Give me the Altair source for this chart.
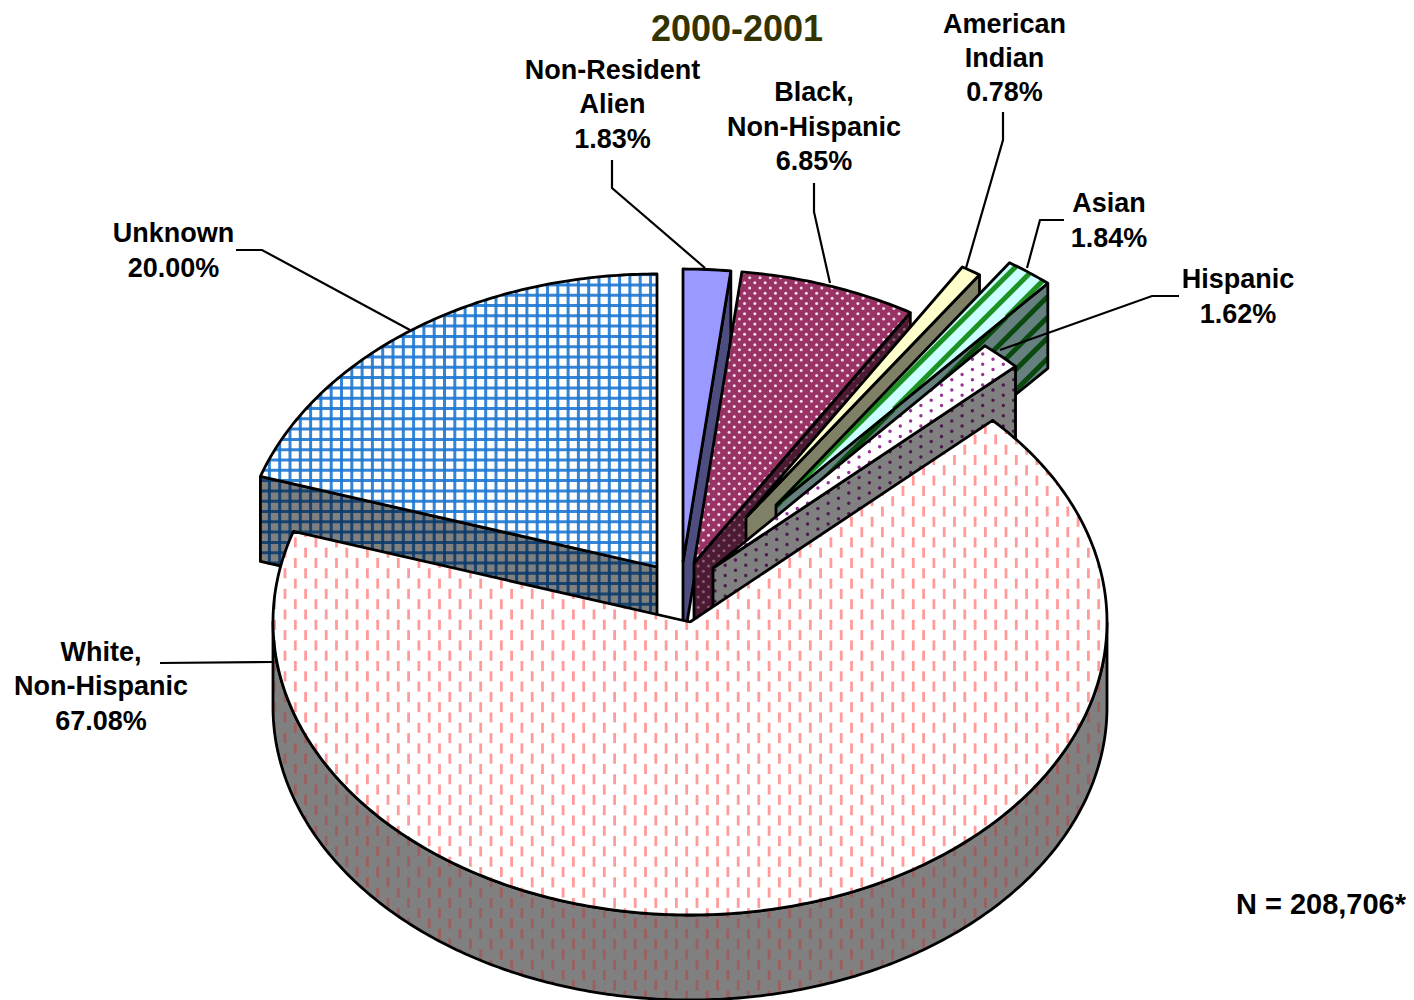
import numpy as np
import pandas as pd
import altair as alt

alt.data_transformers.disable_max_rows()

# ---- values ----
CATEGORIES = ["Unknown", "Non-Resident Alien", "Black, Non-Hispanic", "American Indian",
              "Asian", "Hispanic", "White, Non-Hispanic"]
SHARES = [20.00, 1.83, 6.85, 0.78, 1.84, 1.62, 67.08]
TOTAL_LABEL = "N = 208,706*"
TITLE_LABEL = "2000-2001"
LABEL_LINES = [
    ["Unknown", "20.00%"],
    ["Non-Resident", "Alien", "1.83%"],
    ["Black,", "Non-Hispanic", "6.85%"],
    ["American", "Indian", "0.78%"],
    ["Asian", "1.84%"],
    ["Hispanic", "1.62%"],
    ["White,", "Non-Hispanic", "67.08%"],
]

# ---- layout (page pixels) ----
START_ANGLE = 288.0
RX, RY, DEPTH = 417.0, 293.0, 85.0
CENTERS = [(657, 567), (683, 562), (694, 563), (746, 517.5), (776, 505.5), (713, 568), (690, 622)]
LABEL_X = [173.5, 612.5, 814, 1004.5, 1109, 1238, 101]
LABEL_Y = [[242, 277], [79, 113, 148], [101, 136, 170], [33, 67, 101], [212, 247], [288, 323], [661, 695, 730]]
LEADERS = [
    [(236, 250), (262, 250), (410, 330)],
    [(612, 160), (612, 188), (705, 268)],
    [(814, 183), (814, 212), (830, 283)],
    [(1003, 112), (1003, 140), (966, 268)],
    [(1064, 220), (1040, 220), (1027, 268)],
    [(1179, 296), (1152, 296), (1000, 350)],
    [(160, 663), (273, 662)],
]
FACE = ["#ffffff", "#9999ff", "#993366", "#ffffcc", "#ccffff", "#ffffff", "#ffffff"]
SIDE = ["#808080", "#4d4d80", "#4d1a33", "#808066", "#668080", "#808080", "#808080"]
PATTERN_FACE = ["#1f78d2", None, "#f4dce8", None, "#0a860a", "#993399", "#ff9090"]
PATTERN_SIDE = ["#0c3c6c", None, "#8c6078", None, "#004300", "#4d1a4d", "#a05a5a"]
OUTLINE = 2.8
CELL = 10.3
PAGE_L, PAGE_R, PAGE_T, PAGE_B = 8, 1406, 8, 1000

X = alt.X("x:Q", axis=None, scale=alt.Scale(domain=[PAGE_L, PAGE_R], nice=False, zero=False))
Y = alt.Y("y:Q", axis=None, scale=alt.Scale(domain=[PAGE_B, PAGE_T], nice=False, zero=False))


def rim_point(c, deg):
    a = np.radians(deg)
    return c[0] + RX * np.sin(a), c[1] - RY * np.cos(a)


def inside(px, py, poly):
    poly = np.asarray(poly, float)
    x0, y0 = poly[:, 0], poly[:, 1]
    x1, y1 = np.roll(x0, -1), np.roll(y0, -1)
    px, py = np.asarray(px)[:, None], np.asarray(py)[:, None]
    with np.errstate(divide="ignore", invalid="ignore"):
        cond = ((y0 > py) != (y1 > py)) & (px < (x1 - x0) * (py - y0) / (y1 - y0) + x0)
    return cond.sum(axis=1) % 2 == 1


def clip_segment(p0, p1, poly):
    n = int(max(2, np.hypot(p1[0] - p0[0], p1[1] - p0[1]) * 2))
    t = np.linspace(0, 1, n)
    xs = p0[0] + (p1[0] - p0[0]) * t
    ys = p0[1] + (p1[1] - p0[1]) * t
    mask = inside(xs, ys, poly)
    out, i = [], 0
    while i < n:
        if mask[i]:
            j = i
            while j + 1 < n and mask[j + 1]:
                j += 1
            if j > i:
                out.append((xs[i], ys[i], xs[j], ys[j]))
            i = j + 1
        else:
            i += 1
    return out


def bbox(poly):
    a = np.asarray(poly)
    return a[:, 0].min(), a[:, 0].max(), a[:, 1].min(), a[:, 1].max()


def grid_segments(poly):
    x0, x1, y0, y1 = bbox(poly)
    segs = []
    for k in np.arange(np.floor((x0 - 290) / CELL), np.ceil((x1 - 290) / CELL) + 1):
        gx = 290 + k * CELL
        segs += clip_segment((gx, y0 - 1), (gx, y1 + 1), poly)
    for k in np.arange(np.floor((y0 - 460) / CELL), np.ceil((y1 - 460) / CELL) + 1):
        gy = 460 + k * CELL
        segs += clip_segment((x0 - 1, gy), (x1 + 1, gy), poly)
    return segs


def stripe_segments(poly):
    x0, x1, y0, y1 = bbox(poly)
    segs = []
    period = 2 * CELL
    for k in np.arange(np.floor((x0 + y0 - 1303) / period), np.ceil((x1 + y1 - 1303) / period) + 1):
        s = 1303 + k * period
        segs += clip_segment((x0 - 1, s - x0 + 1), (x1 + 1, s - x1 - 1), poly)
    return segs


def dash_segments(poly):
    x0, x1, y0, y1 = bbox(poly)
    segs = []
    for i in np.arange(np.floor((x0 - 285) / CELL), np.ceil((x1 - 285) / CELL) + 1):
        cx = 285 + i * CELL
        shift = 0 if int(i) % 2 == 0 else CELL
        for j in np.arange(np.floor((y0 - 655.7) / (2 * CELL)) - 1, np.ceil((y1 - 655.7) / (2 * CELL)) + 1):
            cy = 655.7 + j * 2 * CELL + shift
            segs += clip_segment((cx, cy - 5), (cx, cy + 5), poly)
    return segs


def dot_points(poly, ax, ay, dx, dy):
    x0, x1, y0, y1 = bbox(poly)
    xs, ys = [], []
    for j in np.arange(np.floor((y0 - ay) / dy), np.ceil((y1 - ay) / dy) + 1):
        off = dx / 2 if int(j) % 2 else 0
        for i in np.arange(np.floor((x0 - ax) / dx) - 1, np.ceil((x1 - ax) / dx) + 1):
            xs.append(ax + i * dx + off)
            ys.append(ay + j * dy)
    xs, ys = np.array(xs), np.array(ys)
    m = inside(xs, ys, poly)
    return xs[m], ys[m]


def poly_df(poly):
    pts = list(poly) + [poly[0]]
    return pd.DataFrame({"x": [p[0] for p in pts], "y": [p[1] for p in pts], "i": range(len(pts))})


def base_layer(poly, fill):
    return alt.Chart(poly_df(poly)).mark_line(fill=fill, stroke=fill, strokeWidth=0.5).encode(
        x=X, y=Y, order=alt.Order("i:Q"))


def outline_layer(poly):
    return alt.Chart(poly_df(poly)).mark_line(
        stroke="black", strokeWidth=OUTLINE, strokeJoin="round", opacity=1).encode(
        x=X, y=Y, order=alt.Order("i:Q"))


def segment_layer(segs, color, width):
    df = pd.DataFrame(segs, columns=["x", "y", "x2", "y2"])
    return alt.Chart(df).mark_rule(stroke=color, strokeWidth=width, opacity=0.9).encode(
        x=X, y=Y, x2=alt.X2("x2"), y2=alt.Y2("y2"))


def point_layer(xs, ys, color, size):
    df = pd.DataFrame({"x": xs, "y": ys})
    return alt.Chart(df).mark_circle(color=color, size=size, opacity=1).encode(x=X, y=Y)


def pattern_layers(idx, poly, color):
    if color is None:
        return []
    if idx == 0:
        return [segment_layer(grid_segments(poly), color, 3.0)]
    if idx == 2:
        a, b = dot_points(poly, 760, 288, CELL, CELL / 2)
        return [point_layer(a, b, color, 9)]
    if idx == 4:
        return [segment_layer(stripe_segments(poly), color, 5.0)]
    if idx == 5:
        a, b = dot_points(poly, 982.7, 354, 2 * CELL, CELL / 2)
        return [point_layer(a, b, color, 12)]
    if idx == 6:
        return [segment_layer(dash_segments(poly), color, 2.8)]
    return []


layers = []
angle = START_ANGLE
edges = []
for s in SHARES:
    edges.append((angle, angle + s * 3.6))
    angle += s * 3.6

for idx, (a0, a1) in enumerate(edges):
    c = CENTERS[idx]
    arc = [rim_point(c, d) for d in np.linspace(a0, a1, max(4, int((a1 - a0) * 1.5)))]
    top = [c] + arc

    # side wall
    if idx == 6:
        front = [rim_point(c, d) for d in np.linspace(90, 270, 271)]
        side = front + [(p[0], p[1] + DEPTH) for p in reversed(front)]
    elif idx == 0:
        p = arc[0]
        side = [p, c, (c[0], c[1] + DEPTH), (p[0], p[1] + DEPTH)]
    else:
        p = arc[-1]
        side = [p, c, (c[0], c[1] + DEPTH), (p[0], p[1] + DEPTH)]
    layers.append(base_layer(side, SIDE[idx]))
    layers += pattern_layers(idx, side, PATTERN_SIDE[idx])
    layers.append(outline_layer(side))

    # top face
    layers.append(base_layer(top, FACE[idx]))
    layers += pattern_layers(idx, top, PATTERN_FACE[idx])
    layers.append(outline_layer(top))

# leader lines
for pts in LEADERS:
    df = pd.DataFrame({"x": [p[0] for p in pts], "y": [p[1] for p in pts], "i": range(len(pts))})
    layers.append(alt.Chart(df).mark_line(stroke="black", strokeWidth=2.2).encode(
        x=X, y=Y, order=alt.Order("i:Q")))

# labels
rows = []
for lines, lx, lys in zip(LABEL_LINES, LABEL_X, LABEL_Y):
    for t, ly in zip(lines, lys):
        rows.append({"x": lx, "y": ly, "t": t})
layers.append(alt.Chart(pd.DataFrame(rows)).mark_text(
    font="Liberation Sans", fontWeight="bold", fontSize=27, align="center",
    baseline="alphabetic", color="black").encode(x=X, y=Y, text="t:N"))
layers.append(alt.Chart(pd.DataFrame({"x": [1406], "y": [914], "t": [TOTAL_LABEL]})).mark_text(
    font="Liberation Sans", fontWeight="bold", fontSize=29, align="right",
    baseline="alphabetic", color="black").encode(x=X, y=Y, text="t:N"))
layers.append(alt.Chart(pd.DataFrame({"x": [737], "y": [41], "t": [TITLE_LABEL]})).mark_text(
    font="Liberation Sans", fontWeight="bold", fontSize=36, align="center",
    baseline="alphabetic", color="#333300").encode(x=X, y=Y, text="t:N"))

chart = alt.layer(*layers).properties(
    width=PAGE_R - PAGE_L, height=PAGE_B - PAGE_T, padding=0, autosize=alt.AutoSizeParams(type="none"),
    background="white",
).configure_view(stroke=None)

chart.save("out.html", embed_options={"renderer": "svg", "actions": False})
